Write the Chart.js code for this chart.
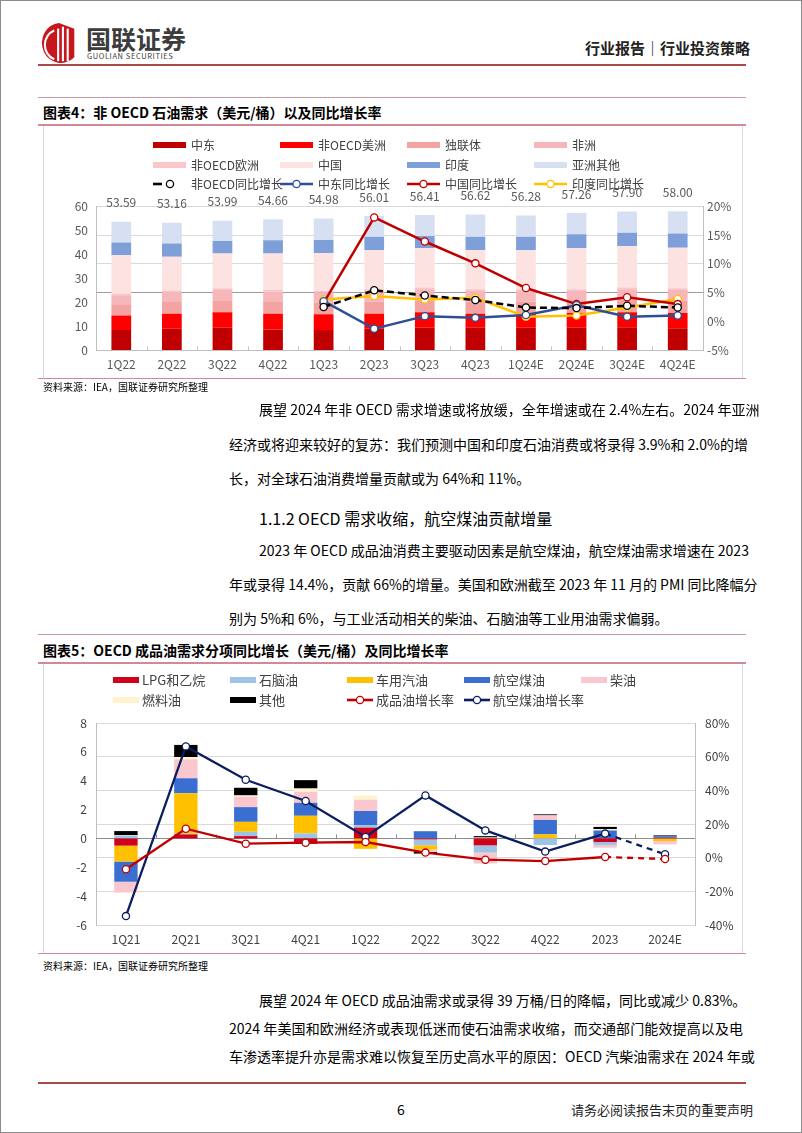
<!DOCTYPE html>
<html><head><meta charset="utf-8">
<script src="https://cdn.jsdelivr.net/npm/chart.js@4.4.1/dist/chart.umd.min.js"></script>
<style>
html,body{margin:0;padding:0;background:#fff;}
#page{position:relative;width:802px;height:1133px;overflow:hidden;box-sizing:border-box;border:1px solid #8c8c8c;font-family:"Noto Sans CJK SC","Noto Sans",sans-serif;color:#000;}
.abs{position:absolute;}
.hline{position:absolute;left:37px;width:708px;}
.ttl{position:absolute;left:42px;font-size:14px;font-weight:bold;line-height:20px;white-space:nowrap;}
.src{position:absolute;left:42px;font-size:10px;line-height:14px;color:#000;white-space:nowrap;}
.ln{position:absolute;left:228px;width:514px;font-size:14px;line-height:20px;height:20px;white-space:nowrap;text-align:justify;text-align-last:justify;}
.ln.first{left:258px;width:484px;}
.ln.last{text-align:left;text-align-last:left;}
.box{position:absolute;left:42px;width:700px;border-left:1px solid #d9d9d9;border-right:1px solid #d9d9d9;box-sizing:border-box;}
.leg{position:absolute;color:#404040;line-height:16px;white-space:nowrap;}
.leg .it{position:absolute;height:16px;}
.leg .sw{position:absolute;top:5px;height:6px;}
.leg .tx{position:absolute;top:0;}
</style></head>
<body>
<div id="page">
  <!-- header -->
  <svg class="abs" style="left:40px;top:20px" width="36" height="44" viewBox="0 0 34 46">
    <path d="M17 2 A20 21 0 1 0 33 38 L33 8 Z" fill="#c8161d"/>
    <rect x="15" y="8" width="2.2" height="34" fill="#fff"/>
    <rect x="20" y="6" width="2.2" height="36" fill="#fff"/>
    <rect x="25" y="8" width="2.2" height="34" fill="#fff"/>
    <path d="M12 10 A15 16 0 0 0 12 40" stroke="#fff" stroke-width="2.2" fill="none"/>
  </svg>
  <div class="abs" style="left:85px;top:22px;font-size:25px;font-weight:bold;color:#3c3c3c;line-height:30px;">国联证券</div>
  <div class="abs" style="left:86px;top:51px;font-size:7.5px;color:#3c3c3c;line-height:8px;letter-spacing:0.6px;">GUOLIAN SECURITIES</div>
  <div class="abs" style="left:584px;top:37px;font-size:15px;font-weight:bold;color:#222;line-height:20px;white-space:nowrap;">行业报告｜行业投资策略</div>
  <div class="hline" style="top:63px;height:2px;background:#a64b4b;"></div>

  <!-- chart 4 -->
  <div class="hline" style="top:96px;height:1px;background:#c99aa4;"></div>
  <div class="ttl" style="top:101px;">图表4：非 OECD 石油需求（美元/桶）以及同比增长率</div>
  <div class="hline" style="top:123px;height:2px;background:#d08a97;"></div>
  <div class="box" style="top:125px;height:252px;"></div>
  <div class="abs" style="left:42px;top:124px;width:700px;height:254px;"><canvas id="c1"></canvas></div>
  <div id="leg1" class="leg" style="left:0;top:0;font-size:12px;"></div>
  <div class="hline" style="top:377px;height:1px;background:#d08a97;"></div>
  <div class="src" style="top:379px;">资料来源：IEA，国联证券研究所整理</div>

  <div class="ln first" style="top:398px;">展望 2024 年非 OECD 需求增速或将放缓，全年增速或在 2.4%左右。2024 年亚洲</div>
  <div class="ln" style="top:433px;">经济或将迎来较好的复苏：我们预测中国和印度石油消费或将录得 3.9%和 2.0%的增</div>
  <div class="ln last" style="top:467px;">长，对全球石油消费增量贡献或为 64%和 11%。</div>
  <div class="abs" style="left:258px;top:505px;font-size:16px;line-height:24px;white-space:nowrap;">1.1.2 OECD 需求收缩，航空煤油贡献增量</div>
  <div class="ln first" style="top:539px;">2023 年 OECD 成品油消费主要驱动因素是航空煤油，航空煤油需求增速在 2023</div>
  <div class="ln" style="top:573px;">年或录得 14.4%，贡献 66%的增量。美国和欧洲截至 2023 年 11 月的 PMI 同比降幅分</div>
  <div class="ln last" style="top:607px;">别为 5%和 6%，与工业活动相关的柴油、石脑油等工业用油需求偏弱。</div>

  <!-- chart 5 -->
  <div class="hline" style="top:633px;height:1px;background:#c99aa4;"></div>
  <div class="ttl" style="top:639px;">图表5：OECD 成品油需求分项同比增长（美元/桶）及同比增长率</div>
  <div class="hline" style="top:661px;height:2px;background:#d08a97;"></div>
  <div class="box" style="top:663px;height:289px;"></div>
  <div class="abs" style="left:42px;top:664px;width:700px;height:288px;"><canvas id="c2"></canvas></div>
  <div id="leg2" class="leg" style="left:0;top:0;font-size:13px;"></div>
  <div class="hline" style="top:952px;height:1px;background:#d08a97;"></div>
  <div class="src" style="top:958px;">资料来源：IEA，国联证券研究所整理</div>

  <div class="ln first" style="top:989px;">展望 2024 年 OECD 成品油需求或录得 39 万桶/日的降幅，同比或减少 0.83%。</div>
  <div class="ln" style="top:1017px;">2024 年美国和欧洲经济或表现低迷而使石油需求收缩，而交通部门能效提高以及电</div>
  <div class="ln" style="top:1045px;">车渗透率提升亦是需求难以恢复至历史高水平的原因：OECD 汽柴油需求在 2024 年或</div>

  <div class="hline" style="top:1081px;height:2px;background:#a64b4b;"></div>
  <div class="abs" style="left:396px;top:1098px;font-size:14px;line-height:20px;">6</div>
  <div class="abs" style="left:570px;top:1099px;font-size:13px;line-height:20px;color:#222;white-space:nowrap;">请务必阅读报告末页的重要声明</div>
</div>

<script>
// ---------- Chart 4 data ----------
const quarters1 = ['1Q22','2Q22','3Q22','4Q22','1Q23','2Q23','3Q23','4Q23','1Q24E','2Q24E','3Q24E','4Q24E'];
const middleEast   = [8.4, 8.9, 9.3, 8.6, 8.4, 8.9, 9.3, 9.3, 9.3, 9.3, 9.5, 9.1];
const nonOecdAmer  = [6.0, 6.3, 6.5, 6.6, 6.5, 6.3, 6.5, 5.9, 5.9, 6.2, 6.3, 6.4];
const fsu          = [4.7, 4.9, 4.7, 4.9, 5.0, 5.0, 5.0, 5.0, 5.0, 5.0, 5.1, 5.1];
const africa       = [3.8, 4.1, 4.6, 4.4, 4.1, 4.5, 4.6, 4.5, 4.5, 4.2, 4.5, 4.5];
const nonOecdEur   = [0.7, 0.7, 0.7, 0.7, 0.7, 0.7, 0.7, 0.7, 0.7, 0.7, 0.7, 0.7];
const china        = [16.0, 14.1, 14.5, 15.2, 15.9, 16.3, 16.6, 16.4, 16.3, 17.3, 17.4, 17.0];
const india        = [5.3, 5.5, 5.3, 5.5, 5.4, 5.6, 5.0, 5.6, 5.6, 5.7, 5.5, 5.9];
const otherAsia    = [8.69, 8.66, 8.39, 8.76, 8.98, 8.71, 8.71, 9.22, 8.98, 8.86, 8.9, 9.3];
const totals1      = [53.59, 53.16, 53.99, 54.66, 54.98, 56.01, 56.41, 56.62, 56.28, 57.26, 57.90, 58.00];
const nonOecdYoY   = [null, null, null, null, 2.5, 5.4, 4.5, 3.7, 2.4, 2.3, 2.7, 2.4];
const middleEastYoY= [null, null, null, null, 3.5, -1.3, 0.9, 0.6, 1.1, 2.8, 0.8, 1.0];
const chinaYoY     = [null, null, null, null, 3.2, 18.1, 13.9, 10.1, 5.8, 3.0, 4.2, 3.0];
const indiaYoY     = [null, null, null, null, 3.8, 4.4, 3.8, 4.1, 0.8, 1.0, 2.4, 3.9];
const leftTicks1 = [0, 60, 10];
const rightTicks1 = [-5, 20, 5];

// ---------- Chart 5 data ----------
const periods2  = ['1Q21','2Q21','3Q21','4Q21','1Q22','2Q22','3Q22','4Q22','2023','2024E'];
const lpgEthane = [-0.5, 0.28, 0.16, -0.37, 0.75, -0.07, -0.48, 0, -0.25, 0.04];
const naphtha   = [0.2, 0.05, 0.3, 0.35, 0.15, -0.4, -0.5, -0.46, -0.21, 0];
const gasoline  = [-1.1, 2.8, 0.69, 1.22, -0.72, -0.3, 0.05, 0.28, 0, -0.18];
const jetFuel   = [-1.4, 1.04, 1.02, 0.9, 1.0, 0.5, 0.05, 1.0, 0.55, 0.1];
const diesel    = [-0.75, 1.31, 0.72, 0.76, 0.78, -0.16, -0.76, 0.32, -0.18, -0.23];
const fuelOil   = [0.03, 0.16, 0.09, 0.23, 0.28, 0, 0, 0, 0.1, 0];
const otherProd = [0.28, 0.84, 0.53, 0.58, 0, -0.12, 0.06, 0.07, 0.15, 0.07];
const productYoY= [-6.9, 17.2, 8.3, 8.9, 9.3, 3.0, -1.2, -2.0, 0.4, -0.83];
const jetYoY    = [-34.7, 66.1, 46.3, 33.7, 12.3, 37.0, 16.2, 3.6, 14.3, 2.0];
const leftTicks2 = [-6, 8, 2];
const rightTicks2 = [-40, 80, 20];

const FONT = '"Noto Sans CJK SC","Noto Sans",sans-serif';
Chart.defaults.font.family = FONT;
Chart.defaults.font.size = 12;
Chart.defaults.color = '#595959';
Chart.defaults.animation = false;

function bar(label, data, color){
  return {type:'bar', label, data, backgroundColor:color, borderWidth:0, yAxisID:'y', order:2,
          barPercentage:1, categoryPercentage:0.4, stack:'s'};
}
function line(label, data, color, dash, lw){
  return {type:'line', label, data, borderColor:color, backgroundColor:'#fff', borderWidth:lw||2.5,
          pointRadius:3.6, pointBorderWidth:1.3, pointBackgroundColor:'#fff', pointBorderColor:dash? '#000': color,
          borderDash: dash||[], yAxisID:'y1', order:1, tension:0, spanGaps:false, fill:false};
}

// zero/category axis line with upward ticks, drawn from the scales
const zeroAxis = {
  id:'zeroAxis',
  beforeDatasetsDraw(chart, args, opts){
    const x = chart.scales.x, y = chart.scales.y, ctx = chart.ctx;
    const y0 = Math.round(y.getPixelForValue(0)) + 0.5;
    ctx.save();
    ctx.strokeStyle = opts.color; ctx.lineWidth = 1;
    ctx.beginPath(); ctx.moveTo(chart.chartArea.left, y0); ctx.lineTo(chart.chartArea.right, y0); ctx.stroke();
    const n = x.ticks.length;
    for(let i=0;i<n-1;i++){
      const xb = Math.round((x.getPixelForTick(i)+x.getPixelForTick(i+1))/2)+0.5;
      ctx.beginPath(); ctx.moveTo(xb, y0); ctx.lineTo(xb, y0-opts.len); ctx.stroke();
    }
    ctx.restore();
  }
};

const totalLabels = {
  id:'totalLabels',
  afterDatasetsDraw(chart){
    const meta = chart.getDatasetMeta(7);
    const ctx = chart.ctx;
    ctx.save();
    ctx.font = '12px ' + FONT; ctx.fillStyle = '#595959'; ctx.textAlign='center'; ctx.textBaseline='middle';
    meta.data.forEach((el,i)=>{ ctx.fillText(totals1[i].toFixed(2), el.x, el.y - 19); });
    ctx.restore();
  }
};

function buildLegend(el, datasets, startX, colW, startY, rowH, cols, swW, txOff){
  datasets.forEach((d,i)=>{
    const r = Math.floor(i/cols), c = i%cols;
    const it = document.createElement('div'); it.className='it';
    it.style.left = (startX + c*colW) + 'px'; it.style.top = (startY + r*rowH - 8) + 'px';
    let sym;
    if(d.type==='bar'){
      sym = '<div class="sw" style="left:0;width:'+swW+'px;background:'+d.backgroundColor+'"></div>';
    } else {
      const dash = d.borderDash && d.borderDash.length;
      const w = dash ? 20 : swW;
      sym = '<svg class="abs" style="left:0;top:0" width="'+(swW+2)+'" height="16">'+
        '<line x1="0" y1="8" x2="'+(dash?9:w)+'" y2="8" stroke="'+d.borderColor+'" stroke-width="2.6"/>'+
        '<circle cx="'+(dash?17:w/2)+'" cy="8" r="3.6" fill="#fff" stroke="'+d.pointBorderColor+'" stroke-width="1.3"/></svg>';
    }
    it.innerHTML = sym + '<div class="tx" style="left:'+txOff+'px">'+d.label+'</div>';
    el.appendChild(it);
  });
}

// ---------- Chart 4 ----------
const ds1 = [
  bar('中东', middleEast, '#c00000'),
  bar('非OECD美洲', nonOecdAmer, '#ff0000'),
  bar('独联体', fsu, '#f4a3a3'),
  bar('非洲', africa, '#f7b6b9'),
  bar('非OECD欧洲', nonOecdEur, '#f9c6c9'),
  bar('中国', china, '#fde2e2'),
  bar('印度', india, '#7f9fd9'),
  bar('亚洲其他', otherAsia, '#d6e0f2'),
  line('非OECD同比增长', nonOecdYoY, '#000000', [7,4], 2.5),
  line('中东同比增长', middleEastYoY, '#2f4f94'),
  line('中国同比增长', chinaYoY, '#c00000'),
  line('印度同比增长', indiaYoY, '#ffc000'),
];
ds1.forEach(d=>{ if(d.type==='bar') d.categoryPercentage = 0.39; });
new Chart(document.getElementById('c1'), {
  data:{labels:quarters1, datasets:ds1},
  options:{
    responsive:true, maintainAspectRatio:false,
    layout:{padding:{top:81.5, left:0, right:0, bottom:0}},
    plugins:{legend:{display:false}, tooltip:{enabled:false}, zeroAxis:{color:'#bfbfbf', len:4}},
    scales:{
      x:{stacked:true, grid:{display:false, drawTicks:false}, border:{display:false},
         ticks:{padding:7, color:'#595959'}, afterFit(s){s.height=29;}},
      y:{stacked:true, position:'left', min:leftTicks1[0], max:leftTicks1[1],
         ticks:{stepSize:leftTicks1[2], padding:8, color:'#595959'},
         grid:{display:false, drawTicks:false}, border:{display:true, color:'#bfbfbf'},
         afterFit(s){s.width=53;}},
      y1:{position:'right', min:rightTicks1[0], max:rightTicks1[1],
         ticks:{stepSize:rightTicks1[2], padding:4, color:'#595959', callback:v=>v+'%'},
         grid:{drawTicks:false, color:c=> c.tick.value===5 ? '#9a9a9a' : (c.tick.value<=0 ? 'rgba(0,0,0,0)' : '#d9d9d9')},
         border:{display:true, color:'#bfbfbf'},
         afterFit(s){s.width=40;}}
    }
  },
  plugins:[zeroAxis, totalLabels]
});
buildLegend(document.getElementById('leg1'), ds1, 152, 127, 144, 19.5, 4, 33, 38);

// ---------- Chart 5 ----------
const ds2 = [
  bar('LPG和乙烷', lpgEthane, '#d0021b'),
  bar('石脑油', naphtha, '#9dc3e6'),
  bar('车用汽油', gasoline, '#ffc000'),
  bar('航空煤油', jetFuel, '#3a6fd1'),
  bar('柴油', diesel, '#f9c7cd'),
  bar('燃料油', fuelOil, '#fff2cc'),
  bar('其他', otherProd, '#000000'),
  line('成品油增长率', productYoY, '#c00000', null, 2.3),
  line('航空煤油增长率', jetYoY, '#0b1f5e', null, 2.3),
];
ds2.forEach(d=>{ if(d.type==='bar'){ d.categoryPercentage = 0.39; } else {
  d.segment = {borderDash: ctx => periods2[ctx.p1DataIndex].endsWith('E') ? [6,5] : undefined};
}});
new Chart(document.getElementById('c2'), {
  data:{labels:periods2, datasets:ds2},
  options:{
    responsive:true, maintainAspectRatio:false,
    layout:{padding:{top:58, left:0, right:0, bottom:0}},
    plugins:{legend:{display:false}, tooltip:{enabled:false}, zeroAxis:{color:'#8c8c8c', len:4}},
    scales:{
      x:{stacked:true, grid:{display:false, drawTicks:false}, border:{display:false},
         ticks:{padding:7, color:'#404040'}, afterFit(s){s.height=28;}},
      y:{stacked:true, position:'left', min:leftTicks2[0], max:leftTicks2[1],
         ticks:{stepSize:leftTicks2[2], padding:9, color:'#404040'},
         grid:{display:false, drawTicks:false}, border:{display:true, color:'#bfbfbf'},
         afterFit(s){s.width=53;}},
      y1:{position:'right', min:rightTicks2[0], max:rightTicks2[1],
         ticks:{stepSize:rightTicks2[2], padding:10, color:'#404040', callback:v=>v+'%'},
         grid:{drawTicks:false, color:'#d9d9d9'},
         border:{display:true, color:'#bfbfbf'},
         afterFit(s){s.width=48;}}
    }
  },
  plugins:[zeroAxis]
});
buildLegend(document.getElementById('leg2'), ds2, 112, 117, 679, 20, 5, 26, 29);
</script>
</body></html>
